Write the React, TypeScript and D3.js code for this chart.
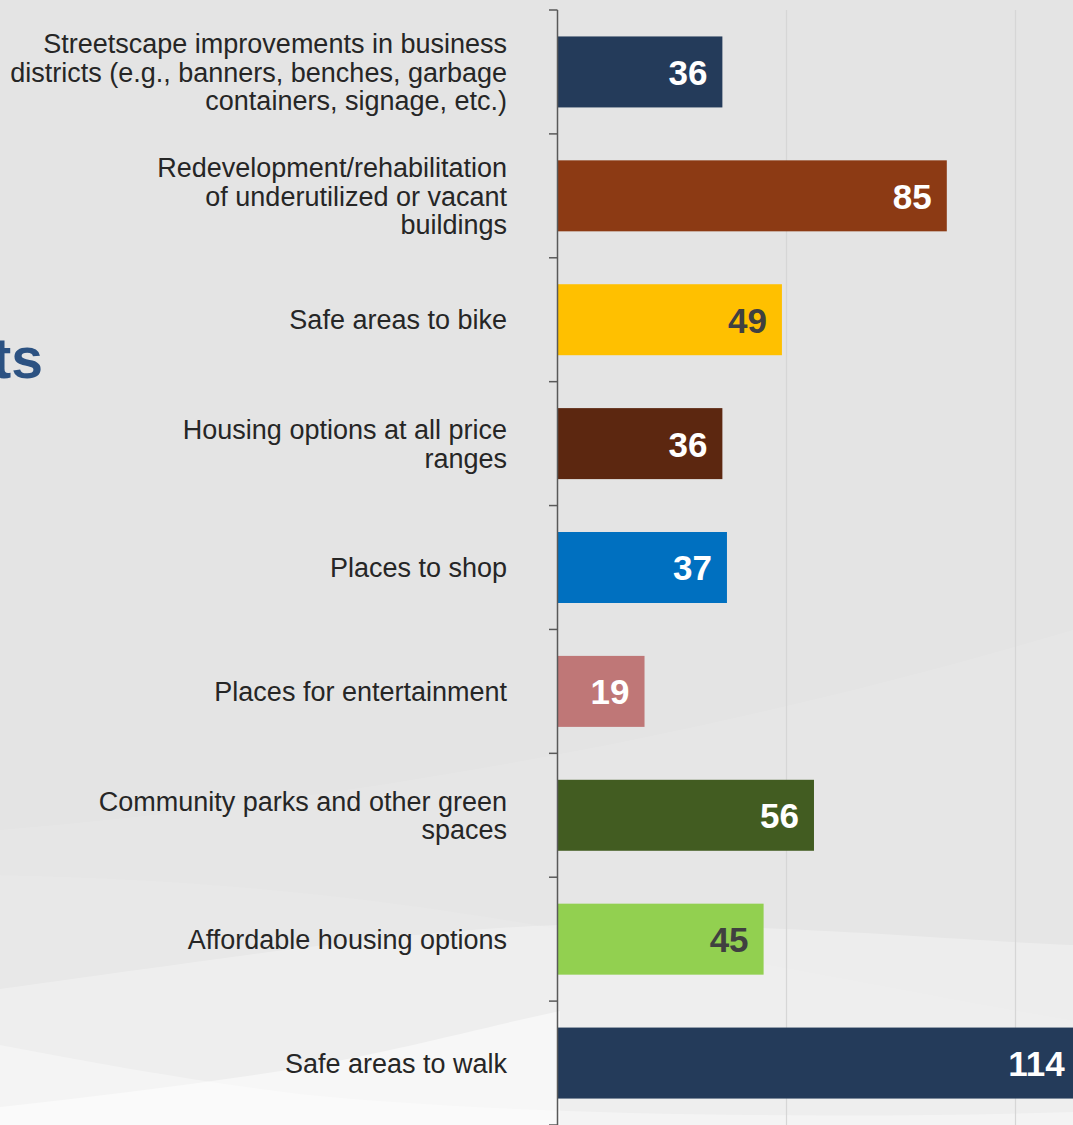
import React from "react";
import * as d3 from "d3";

const categories: string[][] = [
  ["Streetscape improvements in business", "districts (e.g., banners, benches, garbage", "containers, signage, etc.)"],
  ["Redevelopment/rehabilitation", "of underutilized or vacant", "buildings"],
  ["Safe areas to bike"],
  ["Housing options at all price", "ranges"],
  ["Places to shop"],
  ["Places for entertainment"],
  ["Community parks and other green", "spaces"],
  ["Affordable housing options"],
  ["Safe areas to walk"],
];
const values: number[] = [36, 85, 49, 36, 37, 19, 56, 45, 114];
const barColors: string[] = ["#243b5a", "#8c3a14", "#ffc000", "#5c2710", "#0070c0", "#bf7777", "#425c21", "#92d050", "#243b5a"];
const labelColors: string[] = ["#ffffff", "#ffffff", "#404040", "#ffffff", "#ffffff", "#ffffff", "#ffffff", "#404040", "#ffffff"];
const gridTicks: number[] = [50, 100];

const W = 1073;
const H = 1125;

export default function App() {
  const ids = categories.map((_, i) => String(i));
  const y = d3.scaleBand<string>().domain(ids).range([10, 1125]).padding(0);
  const x = d3.scaleLinear().domain([0, 100]).range([557.5, 1015.5]);
  const bw = y.bandwidth();
  const barH = bw * 0.573;
  const boundaries = ids.map((id) => y(id) as number).concat([1125]);

  return (
    <svg
      width={W}
      height={H}
      style={{ position: "absolute", left: 0, top: 0, display: "block" }}
      fontFamily="'Liberation Sans', Arial, sans-serif"
    >
      <defs>
        <clipPath id="clip">
          <rect x={0} y={0} width={W} height={H} />
        </clipPath>
      </defs>
      <rect x={0} y={0} width={W} height={H} fill="#e4e4e4" />
      {/* background swooshes */}
      <path d="M0,830 C350,800 700,740 1073,630 L1073,1125 L0,1125 Z" fill="#ffffff" opacity={0.1} />
      <path d="M0,875 C250,880 420,905 560,929 C760,960 950,1000 1073,1020 L1073,1125 L0,1125 Z" fill="#ffffff" opacity={0.08} />
      <path d="M0,989 C200,962 400,930 560,925 C760,922 950,940 1073,945 L1073,1125 L0,1125 Z" fill="#ffffff" opacity={0.28} />
      <path d="M0,1045 C100,1064 200,1082 300,1094 C500,1114 800,1120 1073,1112 L1073,1125 L0,1125 Z" fill="#ffffff" opacity={0.35} />
      <path d="M0,1107 C100,1096 200,1084 300,1068 C400,1050 480,1028 560,1011 L560,1125 L0,1125 Z" fill="#ffffff" opacity={0.5} />

      {/* partial title text */}
      <text x={43} y={378} textAnchor="end" fontSize={57} fontWeight="bold" fill="#2c5282">
        ts
      </text>

      {/* gridlines */}
      {gridTicks.map((t) => (
        <line key={t} x1={x(t)} x2={x(t)} y1={10} y2={H} stroke="#d6d6d6" strokeWidth={1.2} />
      ))}

      {/* bars */}
      <g clipPath="url(#clip)">
        {values.map((v, i) => {
          const by = (y(ids[i]) as number) + (bw - barH) / 2;
          return (
            <rect key={i} x={x(0) - 0.5} y={by} width={x(v) - x(0) + 0.5} height={barH} fill={barColors[i]} />
          );
        })}
        {values.map((v, i) => {
          const cy = (y(ids[i]) as number) + bw / 2;
          return (
            <text
              key={i}
              x={x(v) - 15}
              y={cy}
              dy="0.37em"
              textAnchor="end"
              fontSize={35}
              fontWeight="bold"
              fill={labelColors[i]}
            >
              {v}
            </text>
          );
        })}
      </g>

      {/* axis */}
      <line x1={557.5} x2={557.5} y1={10} y2={H} stroke="#595959" strokeWidth={1.5} />
      {boundaries.map((b, i) => (
        <line key={i} x1={549} x2={557.5} y1={b} y2={b} stroke="#595959" strokeWidth={1.5} />
      ))}

      {/* category labels */}
      {categories.map((lines, i) => {
        const cy = (y(ids[i]) as number) + bw / 2;
        const lh = 28.5;
        const start = cy - ((lines.length - 1) * lh) / 2;
        return (
          <text key={i} textAnchor="end" fontSize={27} fill="#262626">
            {lines.map((ln, j) => (
              <tspan key={j} x={507} y={start + j * lh} dy="0.36em">
                {ln}
              </tspan>
            ))}
          </text>
        );
      })}
    </svg>
  );
}
